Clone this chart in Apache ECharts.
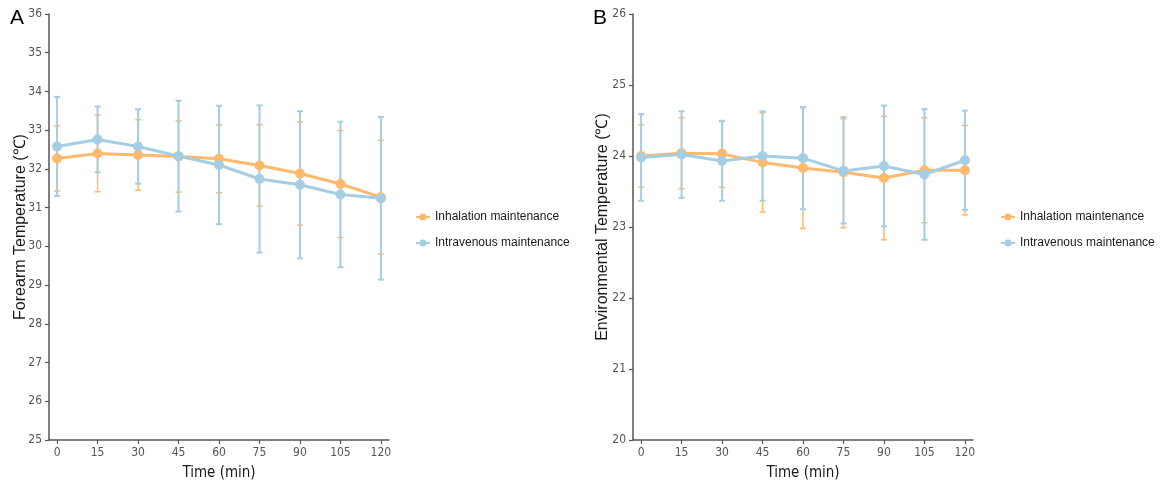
<!DOCTYPE html>
<html>
<head>
<meta charset="utf-8">
<script src="https://cdn.jsdelivr.net/npm/echarts@6/dist/echarts.min.js"></script>
<style>
html,body{margin:0;padding:0;background:#fff;}
#chart{width:1163px;height:486px;}
</style>
</head>
<body>
<div id="chart"></div>
<script>
// ---- data ----
const times = [0, 15, 30, 45, 60, 75, 90, 105, 120];
const seriesNames = ['Inhalation maintenance', 'Intravenous maintenance'];

// Panel A: forearm temperature (mean, SD)
const forearmInhalMean = [32.27, 32.40, 32.36, 32.32, 32.26, 32.09, 31.88, 31.61, 31.27];
const forearmInhalSD   = [0.84, 0.99, 0.91, 0.92, 0.875, 1.05, 1.33, 1.38, 1.47];
const forearmIvMean    = [32.58, 32.76, 32.58, 32.33, 32.10, 31.74, 31.59, 31.34, 31.24];
const forearmIvSD      = [1.28, 0.85, 0.96, 1.43, 1.53, 1.90, 1.90, 1.88, 2.10];

// Panel B: environmental temperature (mean, SD)
const envInhalMean = [24.00, 24.04, 24.03, 23.91, 23.83, 23.77, 23.69, 23.80, 23.80];
const envInhalSD   = [0.44, 0.50, 0.47, 0.70, 0.85, 0.78, 0.87, 0.74, 0.63];
const envIvMean    = [23.98, 24.02, 23.93, 24.00, 23.97, 23.79, 23.86, 23.74, 23.94];
const envIvSD      = [0.61, 0.61, 0.56, 0.63, 0.72, 0.74, 0.85, 0.92, 0.70];

// ---- styles ----
const ORANGE = '#FDBA6C';
const BLUE = '#A6CEE3';
const AXIS_COLOR = '#555555';
const NARROW_FONT = "'Liberation Sans Narrow', 'DejaVu Sans Condensed', 'Liberation Sans', sans-serif";

function pts(mean) { return times.map((t, i) => [t, mean[i]]); }
function errs(mean, sd) { return times.map((t, i) => [t, mean[i] - sd[i], mean[i] + sd[i]]); }

function errorSeries(idx, mean, sd, color, lw, capHalf) {
  return {
    type: 'custom',
    name: 'err' + idx + color,
    xAxisIndex: idx, yAxisIndex: idx,
    silent: true,
    z: 1,
    data: errs(mean, sd),
    renderItem: function (params, api) {
      const x = api.value(0);
      const lo = api.coord([x, api.value(1)]);
      const hi = api.coord([x, api.value(2)]);
      const st = { stroke: color, lineWidth: lw, fill: null };
      return {
        type: 'group',
        children: [
          { type: 'line', shape: { x1: lo[0], y1: lo[1], x2: hi[0], y2: hi[1] }, style: st },
          { type: 'line', shape: { x1: lo[0] - capHalf, y1: lo[1], x2: lo[0] + capHalf, y2: lo[1] }, style: st },
          { type: 'line', shape: { x1: hi[0] - capHalf, y1: hi[1], x2: hi[0] + capHalf, y2: hi[1] }, style: st }
        ]
      };
    }
  };
}

function lineSeries(idx, name, mean, color, z) {
  return {
    type: 'line',
    name: name,
    xAxisIndex: idx, yAxisIndex: idx,
    data: pts(mean),
    symbol: 'circle',
    symbolSize: 10,
    showSymbol: true,
    z: z,
    lineStyle: { color: color, width: 3 },
    itemStyle: { color: color },
    emphasis: { disabled: true },
    animation: false
  };
}

function xAxis(idx) {
  return {
    type: 'value', gridIndex: idx, min: -3, max: 123,
    name: 'Time (min)', nameLocation: 'middle', nameGap: 26,
    nameMoveOverlap: false,
    nameTextStyle: { fontFamily: NARROW_FONT, fontSize: 15, color: '#1a1a1a' },
    axisLine: { show: true, onZero: false, lineStyle: { color: AXIS_COLOR, width: 1.5 } },
    axisTick: { show: true, length: 4, customValues: times, lineStyle: { color: AXIS_COLOR, width: 1.2 } },
    axisLabel: { customValues: times, margin: 7, fontFamily: NARROW_FONT, fontSize: 12, color: '#555555' },
    splitLine: { show: false }
  };
}

function yAxis(idx, min, max, name, gap) {
  return {
    type: 'value', gridIndex: idx, min: min, max: max, interval: 1,
    name: name, nameLocation: 'middle', nameGap: gap, nameRotate: 90,
    nameMoveOverlap: false,
    nameTextStyle: { fontFamily: 'Liberation Sans', fontSize: 16, color: '#1a1a1a' },
    axisLine: { show: true, onZero: false, lineStyle: { color: AXIS_COLOR, width: 1.5 } },
    axisTick: { show: true, length: 4, lineStyle: { color: AXIS_COLOR, width: 1.2 } },
    axisLabel: { margin: 7, fontFamily: NARROW_FONT, fontSize: 12, color: '#555555' },
    splitLine: { show: false }
  };
}

function legend(left) {
  return {
    data: seriesNames,
    orient: 'vertical',
    left: left, top: 206,
    itemWidth: 14, itemHeight: 9, itemGap: 14,
    selectedMode: false,
    textStyle: { fontFamily: 'Liberation Sans', fontSize: 12, color: '#1a1a1a' }
  };
}

const chart = echarts.init(document.getElementById('chart'), null, { renderer: 'canvas' });
chart.setOption({
  animation: false,
  backgroundColor: '#ffffff',
  title: [
    { text: 'A', left: 10, top: 8, padding: 0, textStyle: { fontFamily: 'Liberation Sans', fontSize: 21, fontWeight: 'normal', color: '#000' } },
    { text: 'B', left: 593, top: 8, padding: 0, textStyle: { fontFamily: 'Liberation Sans', fontSize: 21, fontWeight: 'normal', color: '#000' } }
  ],
  grid: [
    { left: 49, top: 14, width: 340, height: 428 },
    { left: 633, top: 14, width: 340, height: 428 }
  ],
  xAxis: [xAxis(0), xAxis(1)],
  yAxis: [
    yAxis(0, 25, 36, 'Forearm Temperature (℃)', 20),
    yAxis(1, 20, 26, 'Environmental Temperature (℃)', 22)
  ],
  legend: [legend(410), legend(995)],
  series: [
    errorSeries(0, forearmInhalMean, forearmInhalSD, ORANGE, 1.5, 3),
    errorSeries(0, forearmIvMean, forearmIvSD, BLUE, 2, 3),
    lineSeries(0, seriesNames[0], forearmInhalMean, ORANGE, 3),
    lineSeries(0, seriesNames[1], forearmIvMean, BLUE, 4),
    errorSeries(1, envInhalMean, envInhalSD, ORANGE, 1.5, 3),
    errorSeries(1, envIvMean, envIvSD, BLUE, 2, 3),
    lineSeries(1, seriesNames[0], envInhalMean, ORANGE, 3),
    lineSeries(1, seriesNames[1], envIvMean, BLUE, 4)
  ]
});
</script>
</body>
</html>
